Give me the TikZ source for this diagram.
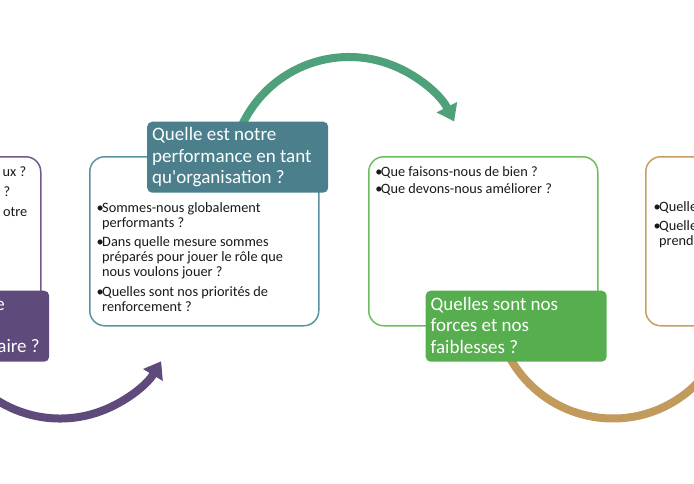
\documentclass[tikz,border=0pt]{standalone}
\usepackage{fontspec}
\setmainfont{Carlito}
\usetikzlibrary{arrows.meta}
\definecolor{cpurple}{HTML}{5F4B7B}
\definecolor{cpurpleline}{HTML}{6E5A8C}
\definecolor{ctealbox}{HTML}{4B7F8C}
\definecolor{ctealline}{HTML}{5A93A3}
\definecolor{cseagreen}{HTML}{4FA17B}
\definecolor{cgreenbox}{HTML}{56AE4F}
\definecolor{cgreenline}{HTML}{6CBE5C}
\definecolor{ctan}{HTML}{C29A5B}
\definecolor{ctanline}{HTML}{C89D62}
\begin{document}
\begin{tikzpicture}[x=1pt,y=-1pt,
  bodybox/.style={draw, line width=1.5pt, fill=white, rounded corners=15pt,
    minimum width=229pt, minimum height=169pt, anchor=north west, inner sep=0pt},
  labelbox/.style={rounded corners=5pt, minimum width=181pt, minimum height=71pt,
    anchor=north west, inner sep=0pt},
  bodytext/.style={anchor=base west, inner sep=0pt, align=left,
    font=\fontsize{14.3}{15}\selectfont, text=black!90},
  fragtext/.style={anchor=base east, inner sep=0pt,
    font=\fontsize{14.3}{15}\selectfont, text=black!90},
  labeltext/.style={anchor=base west, inner sep=0pt, align=left,
    font=\fontsize{19}{21.7}\selectfont, text=white},
  labelfrag/.style={anchor=base east, inner sep=0pt,
    font=\fontsize{19}{21.7}\selectfont, text=white},
  arcline/.style={line width=8pt},
  head/.style={-{Triangle[width=22pt,length=16pt]}},
]
\useasboundingbox (0,0) rectangle (694,483);
\clip (0,0) rectangle (694,483);
\fill[white] (0,0) rectangle (694,483);

% circular arrows
\coordinate (tealC) at (349,175);
\coordinate (purpC) at (60,300.5);
\coordinate (tanC) at (613,300.5);
\draw[arcline, cseagreen, head] ([shift={(-160:118)}]tealC) arc[start angle=-160, end angle=-27, radius=118];
\draw[arcline, cpurple, head] ([shift={(160:118)}]purpC) arc[start angle=160, end angle=31, radius=118];
\draw[arcline, ctan] ([shift={(150:118)}]tanC) arc[start angle=150, end angle=15, radius=118];

% body boxes
\node[bodybox, draw=cpurpleline] (pbody) at (-189,156) {};
\node[bodybox, draw=ctealline] (tbody) at (89,156) {};
\node[bodybox, draw=cgreenline] (gbody) at (368,156) {};
\node[bodybox, draw=ctanline] (obody) at (645,156) {};

% label boxes
\node[labelbox, fill=cpurple] (plabel) at (-132,290.5) {};
\node[labelbox, fill=ctealbox] (tlabel) at (147,121.5) {};
\node[labelbox, fill=cgreenbox] (glabel) at (425.5,290.5) {};

% label texts (anchor = baseline of last line)
\node[labelfrag] (pl1) at (5,310.5) {e};
\node[labelfrag] (pl2) at (40,352) {aire ?};
\node[labeltext] (tl) at (152,183.9) {Quelle est notre\\performance en tant\\qu\textquotesingle organisation ?};
\node[labeltext] (gl) at (430.5,353.4) {Quelles sont nos\\forces et nos\\faiblesses ?};

% body texts (anchor = baseline of last line)
\node[fragtext] (pt1) at (26.5,176) {ux ?};
\node[fragtext] (pt2) at (10.5,196) {?};
\node[fragtext] (pt3) at (27.5,216) {otre};
\node[bodytext] (tt) at (96.5,311) {\makebox[5.5pt][l]{•}Sommes-nous globalement\\
\hspace*{5.5pt}performants ?\\[4.5pt]
\makebox[5.5pt][l]{•}Dans quelle mesure sommes\\
\hspace*{5.5pt}préparés pour jouer le rôle que\\
\hspace*{5.5pt}nous voulons jouer ?\\[4.5pt]
\makebox[5.5pt][l]{•}Quelles sont nos priorités de\\
\hspace*{5.5pt}renforcement ?};
\node[bodytext] (gt) at (375.2,193) {\makebox[5.5pt][l]{•}Que faisons-nous de bien ?\\[2pt]
\makebox[5.5pt][l]{•}Que devons-nous améliorer ?};
\node[bodytext] (ot) at (653.5,245) {\makebox[5.5pt][l]{•}Quelle\\[4pt]
\makebox[5.5pt][l]{•}Quelle\\
\hspace*{5.5pt}prend};
\end{tikzpicture}
\end{document}
